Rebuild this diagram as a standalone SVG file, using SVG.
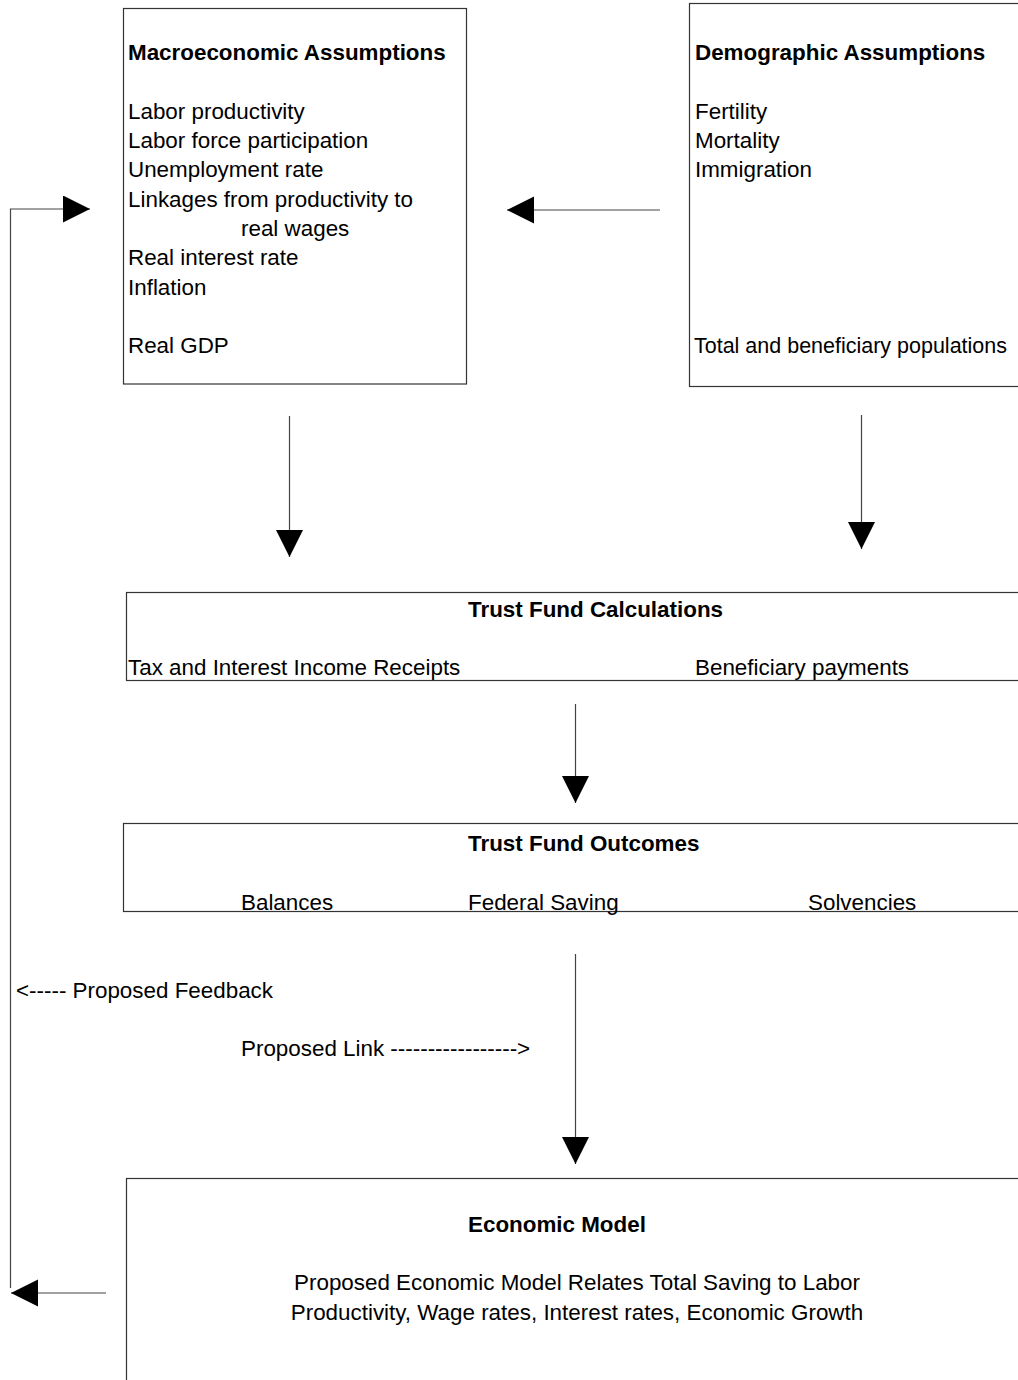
<svg xmlns="http://www.w3.org/2000/svg" width="1018" height="1380" viewBox="0 0 1018 1380">
<style>
.box{fill:#fff;stroke:#333;stroke-width:1.2}
text{font-family:"Liberation Sans",Arial,sans-serif;font-size:22.4px;fill:#000}
.b{font-weight:bold}
.c{fill:none;stroke:#444;stroke-width:1.2}
</style>
<defs>
<marker id="ah" markerUnits="userSpaceOnUse" markerWidth="28" markerHeight="28" refX="27" refY="13.5" orient="auto">
<path d="M0,0 L27,13.5 L0,27 z" fill="#000"/>
</marker>
</defs>
<rect width="1018" height="1380" fill="#fff"/>
<g id="macro">
<rect class="box" x="123.5" y="8.5" width="343" height="375.5"/>
<text class="b" x="128" y="60">Macroeconomic Assumptions</text>
<text x="128" y="119">Labor productivity</text>
<text x="128" y="148">Labor force participation</text>
<text x="128" y="177">Unemployment rate</text>
<text x="128" y="207">Linkages from productivity to</text>
<text x="241" y="236">real wages</text>
<text x="128" y="265">Real interest rate</text>
<text x="128" y="295">Inflation</text>
<text x="128" y="353">Real GDP</text>
</g>
<g id="demo">
<rect class="box" x="689.5" y="3.5" width="340" height="383"/>
<text class="b" x="695" y="60">Demographic Assumptions</text>
<text x="695" y="119">Fertility</text>
<text x="695" y="148">Mortality</text>
<text x="695" y="177">Immigration</text>
<text x="694" y="353" textLength="313" lengthAdjust="spacingAndGlyphs">Total and beneficiary populations</text>
</g>
<g id="calc">
<rect class="box" x="126.5" y="592.5" width="903" height="88"/>
<text class="b" x="468" y="617">Trust Fund Calculations</text>
<text x="128" y="675">Tax and Interest Income Receipts</text>
<text x="695" y="675">Beneficiary payments</text>
</g>
<g id="outcomes">
<rect class="box" x="123.5" y="823.5" width="906" height="88"/>
<text class="b" x="468" y="851">Trust Fund Outcomes</text>
<text x="241" y="910">Balances</text>
<text x="468" y="910">Federal Saving</text>
<text x="808" y="910">Solvencies</text>
</g>
<g id="econ">
<rect class="box" x="126.5" y="1178.5" width="903" height="220"/>
<text class="b" x="468" y="1232">Economic Model</text>
<text x="577" y="1290" text-anchor="middle">Proposed Economic Model Relates Total Saving to Labor</text>
<text x="577" y="1320" text-anchor="middle">Productivity, Wage rates, Interest rates, Economic Growth</text>
</g>
<g id="labels">
<text x="16" y="998">&lt;----- Proposed Feedback</text>
<text x="241" y="1056">Proposed Link -----------------&gt;</text>
</g>
<g id="connectors">
<path class="c" d="M10.5,1288 L10.5,209 L90,209" marker-end="url(#ah)"/>
<line class="c" x1="660" y1="210" x2="507" y2="210" marker-end="url(#ah)"/>
<line class="c" x1="289.5" y1="416" x2="289.5" y2="557" marker-end="url(#ah)"/>
<line class="c" x1="861.5" y1="415" x2="861.5" y2="549" marker-end="url(#ah)"/>
<line class="c" x1="575.5" y1="704" x2="575.5" y2="803" marker-end="url(#ah)"/>
<line class="c" x1="575.5" y1="954" x2="575.5" y2="1164" marker-end="url(#ah)"/>
<line class="c" x1="106" y1="1293" x2="11" y2="1293" marker-end="url(#ah)"/>
</g>
</svg>
